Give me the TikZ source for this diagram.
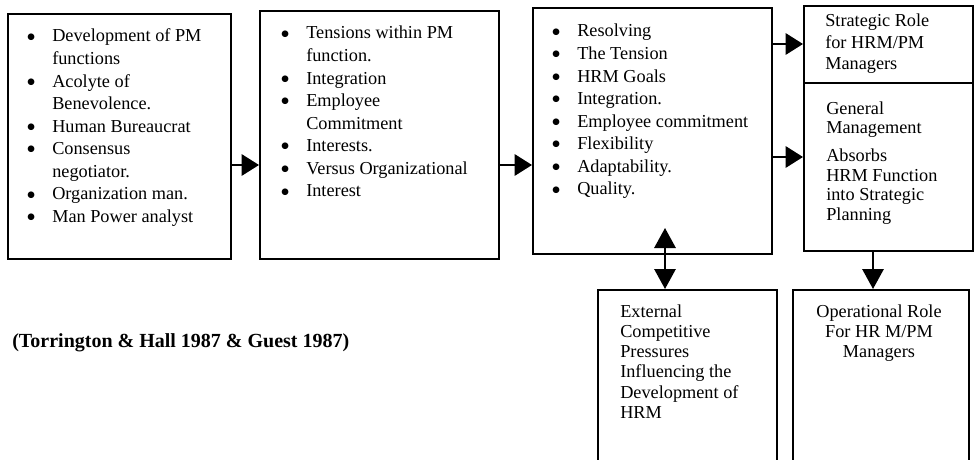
\documentclass[tikz,border=0pt]{standalone}
\usepackage{fontspec}
\setmainfont{Liberation Serif}
\newfontfamily\bulletfont{DejaVu Sans}
\usetikzlibrary{arrows.meta}
\newcommand\bl{\makebox[18.75pt][l]{\raisebox{2pt}{\bulletfont\fontsize{6.5pt}{6.5pt}\selectfont ●}}}
\newcommand\nb{\hspace*{18.75pt}}
\tikzset{
  box/.style={draw=black, line width=1.6pt, inner sep=0pt, anchor=north west},
  txt/.style={inner sep=0pt, anchor=base west, font=\fontsize{13.7pt}{16.9pt}\selectfont},
  rtxt/.style={inner sep=0pt, anchor=base west, font=\fontsize{13.7pt}{16.1pt}\selectfont},
  etxt/.style={inner sep=0pt, anchor=base west, font=\fontsize{13.7pt}{15.2pt}\selectfont},
  arr/.style={line width=1.5pt, -{Triangle[length=13pt,width=16pt]}},
  varr/.style={line width=1.5pt, -{Triangle[length=15pt,width=16pt]}},
  darr/.style={line width=1.5pt, {Triangle[length=15pt,width=16pt]}-{Triangle[length=15pt,width=16pt]}}
}
\begin{document}
\begin{tikzpicture}[x=0.75pt, y=-0.75pt]
\useasboundingbox (0,0) rectangle (975,460);
\fill[white] (0,0) rectangle (975,460);
\clip (0,0) rectangle (975,460);

% boxes
\node[box, minimum width=167.25pt, minimum height=183.75pt] (b1) at (7,13) {};
\node[box, minimum width=179.25pt, minimum height=186pt] (b2) at (259,10) {};
\node[box, minimum width=179.25pt, minimum height=184.5pt] (b3) at (532,7) {};
\node[box, minimum width=126.75pt, minimum height=57.75pt] (rt) at (803,5) {};
\node[box, minimum width=126.75pt, minimum height=126pt] (rb) at (803,82) {};
\node[box, minimum width=134.25pt, minimum height=142.5pt] (ext) at (597,289) {};
\node[box, minimum width=132pt, minimum height=142.5pt] (op) at (792,289) {};

% texts
\node[txt] (t1) at (27,42) {\begin{tabular}[t]{@{}l@{}}
\bl Development of PM\\
\nb functions\\
\bl Acolyte of\\
\nb Benevolence.\\
\bl Human Bureaucrat\\
\bl Consensus\\
\nb negotiator.\\
\bl Organization man.\\
\bl Man Power analyst
\end{tabular}};

\node[txt] (t2) at (281,39) {\begin{tabular}[t]{@{}l@{}}
\bl Tensions within PM\\
\nb function.\\
\bl Integration\\
\bl Employee\\
\nb Commitment\\
\bl Interests.\\
\bl Versus Organizational\\
\bl Interest
\end{tabular}};

\node[txt] (t3) at (552,37) {\begin{tabular}[t]{@{}l@{}}
\bl Resolving\\
\bl The Tension\\
\bl HRM Goals\\
\bl Integration.\\
\bl Employee commitment\\
\bl Flexibility\\
\bl Adaptability.\\
\bl Quality.
\end{tabular}};

\node[rtxt] (t4) at (825,27) {\begin{tabular}[t]{@{}l@{}}
Strategic Role\\
for HRM/PM\\
Managers
\end{tabular}};

\node[inner sep=0pt, anchor=base west, font=\fontsize{13.7pt}{14.6pt}\selectfont] (t5) at (826,114) {\begin{tabular}[t]{@{}l@{}}
General\\
Management\\[6.75pt]
Absorbs\\
HRM Function\\
into Strategic\\
Planning
\end{tabular}};

\node[etxt] (t6) at (620,317) {\begin{tabular}[t]{@{}l@{}}
External\\
Competitive\\
Pressures\\
Influencing the\\
Development of\\
HRM
\end{tabular}};

\node[inner sep=0pt, anchor=base, font=\fontsize{13.7pt}{15.2pt}\selectfont] (t7) at (879,317) {\begin{tabular}[t]{@{}c@{}}
Operational Role\\
For HR M/PM\\
Managers
\end{tabular}};

\node[inner sep=0pt, anchor=base west, font=\bfseries\fontsize{15pt}{18pt}\selectfont] (cite) at (12,347) {(Torrington \& Hall 1987 \& Guest 1987)};

% connectors
\coordinate (ya) at (0,165);
\coordinate (yb) at (0,44);
\coordinate (yc) at (0,157);
\coordinate (dtop) at (665,228);
\coordinate (xd) at (873,0);

\draw[arr] (b1.east |- ya) -- (b2.west |- ya);
\draw[arr] (b2.east |- ya) -- (b3.west |- ya);
\draw[arr] (b3.east |- yb) -- (rt.west |- yb);
\draw[arr] (b3.east |- yc) -- (rb.west |- yc);
\draw[darr] (dtop) -- (ext.north -| dtop);
\draw[varr] (rb.south -| xd) -- (op.north -| xd);
\end{tikzpicture}
\end{document}
